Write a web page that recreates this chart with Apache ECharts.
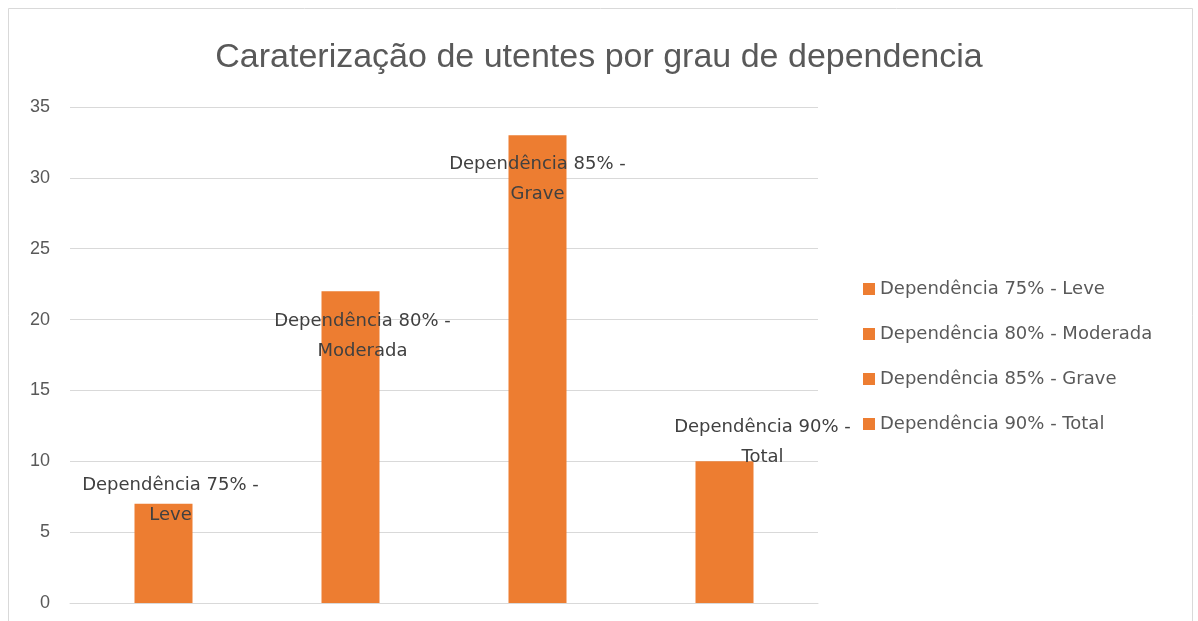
<!DOCTYPE html>
<html>
<head>
<meta charset="utf-8">
<script src="https://cdn.jsdelivr.net/npm/echarts@6/dist/echarts.min.js"></script>
<style>
  html, body { margin: 0; padding: 0; background: #fff; }
  #main { width: 1198px; height: 621px; }
</style>
</head>
<body>
<div id="main"></div>
<script>
var categories = ['Dependência 75% - Leve', 'Dependência 80% - Moderada', 'Dependência 85% - Grave', 'Dependência 90% - Total'];
var values = [7, 22, 33, 10];
var yTicks = { min: 0, max: 35, interval: 5 };

var textColor = '#595959';
var barColor = '#ED7D31';
var fontName = '"Liberation Sans", "Noto Sans", sans-serif';
var wideFont = '"DejaVu Sans", "Noto Sans", sans-serif';

// where Excel left each data label, relative to the bar top
var labelShift = [[7, -3], [12, 45], [0, 44], [38, -19]];

var chart = echarts.init(document.getElementById('main'));

// one series per category, stacked so they sit centred in their slot
var series = [];
for (var i = 0; i < categories.length; i++) {
  var d = [];
  for (var j = 0; j < categories.length; j++) d.push(j == i ? values[i] : null);
  series.push({
    name: categories[i],
    type: 'bar',
    stack: 'all',
    barWidth: 58,
    itemStyle: { color: barColor },
    label: {
      show: true,
      position: ['50%', 0],
      offset: labelShift[i],
      align: 'center',
      verticalAlign: 'middle',
      color: '#404040',
      fontSize: 18,
      fontFamily: wideFont,
      lineHeight: 30,
      formatter: function (p) { return p.seriesName.replace(' - ', ' -\n'); }
    },
    data: d
  });
}

var option = {
  backgroundColor: '#fff',
  animation: false,
  graphic: [{
    type: 'rect',
    shape: { x: 8.5, y: 8.5, width: 1184, height: 700 },
    style: { fill: 'none', stroke: '#d9d9d9', lineWidth: 1 },
    silent: true
  }],
  title: {
    text: 'Caraterização de utentes por grau de dependencia',
    left: 'center',
    top: 36,
    textStyle: { color: textColor, fontSize: 34, fontWeight: 'normal', fontFamily: fontName }
  },
  legend: {
    orient: 'vertical',
    left: 858,
    top: 275,
    itemGap: 27,
    itemWidth: 12,
    itemHeight: 12,
    icon: 'rect',
    textStyle: { color: textColor, fontSize: 18, fontFamily: wideFont },
    data: categories
  },
  grid: { left: 70, right: 380, top: 107, bottom: 18 },
  xAxis: {
    type: 'category',
    data: categories,
    axisLine: { lineStyle: { color: '#d9d9d9' } },
    axisTick: { show: false },
    axisLabel: { show: false }
  },
  yAxis: {
    type: 'value',
    min: yTicks.min,
    max: yTicks.max,
    interval: yTicks.interval,
    axisLine: { show: false },
    axisTick: { show: false },
    axisLabel: { color: textColor, fontSize: 18, fontFamily: fontName, margin: 20 },
    splitLine: { lineStyle: { color: '#d9d9d9' } }
  },
  series: series
};

chart.setOption(option);
</script>
</body>
</html>
